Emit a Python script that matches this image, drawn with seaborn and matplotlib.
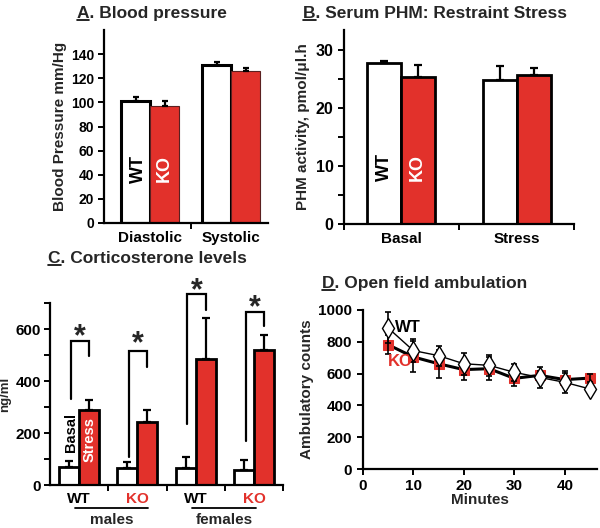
import numpy as np
import pandas as pd
import matplotlib
matplotlib.use("Agg")
import matplotlib.pyplot as plt
from matplotlib.lines import Line2D
import seaborn as sns

# ---------------- data ----------------
bp_categories = ["Diastolic", "Systolic"]
bp_wt = [101, 131]
bp_wt_err = [3.5, 2.7]
bp_ko = [97, 126]
bp_ko_err = [4.0, 2.7]

phm_categories = ["Basal", "Stress"]
phm_wt = [27.8, 24.9]
phm_wt_err = [0.4, 2.4]
phm_ko = [25.4, 25.7]
phm_ko_err = [2.1, 1.3]

cort_groups = ["WT males", "KO males", "WT females", "KO females"]
cort_tick_labels = ["WT", "KO", "WT", "KO"]
cort_basal = [71, 67, 64, 58]
cort_basal_err = [22, 23, 43, 39]
cort_stress = [290, 241, 486, 520]
cort_stress_err = [36, 49, 155, 56]
# significance brackets (value units)
cort_bracket_top = [553, 517, 735, 664]
cort_bracket_left = [331, 107, 235, 168]
cort_bracket_right = [496, 454, 673, 612]
cort_star = [588, 561, 767, 703]

minutes = [5, 10, 15, 20, 25, 30, 35, 40, 45]
wt_counts = [888, 745, 713, 662, 652, 608, 576, 545, 503]
wt_counts_err = [98, 72, 63, 68, 65, 55, 65, 70, 15]
ko_counts = [782, 705, 662, 625, 631, 570, 589, 562, 572]
ko_counts_err = [60, 97, 87, 63, 74, 51, 30, 40, 25]

RED = "#E2312B"

sns.set_style("ticks")
plt.rcParams["font.family"] = ["Liberation Sans", "DejaVu Sans"]
plt.rcParams["font.weight"] = "bold"
plt.rcParams["axes.labelweight"] = "bold"
plt.rcParams["axes.linewidth"] = 1.6
plt.rcParams["xtick.major.width"] = 1.4
plt.rcParams["ytick.major.width"] = 1.4
plt.rcParams["xtick.minor.width"] = 1.4
plt.rcParams["ytick.minor.width"] = 1.4
plt.rcParams["xtick.color"] = "black"
plt.rcParams["ytick.color"] = "black"
plt.rcParams["axes.edgecolor"] = "black"

fig = plt.figure(figsize=(6.0, 5.28), dpi=100)
W, H = 600, 528


def panel_title(x, y, letter, rest, size=12.5):
    fig.text(x, y, letter + rest, fontsize=size, fontweight="bold", ha="left", va="center")
    tl = fig.text(x, y, letter, fontsize=size, fontweight="bold", ha="left", va="center", alpha=0)
    r = fig.canvas.get_renderer()
    bb = tl.get_window_extent(r)
    fig.add_artist(Line2D([bb.x0 / W, bb.x1 / W], [(bb.y0 + 1.0) / H] * 2,
                          transform=fig.transFigure, color="black", lw=1.2))


def sorted_patches(ax):
    return sorted(ax.patches, key=lambda p: p.get_x())


def style_axes(ax):
    sns.despine(ax=ax)
    ax.tick_params(direction="out", length=4, which="both")


# ---------------- Panel A ----------------
axA = fig.add_axes([0.174, 0.5777, 0.273, 0.3653])
dfA = pd.DataFrame({
    "cat": bp_categories * 2,
    "geno": ["WT"] * 2 + ["KO"] * 2,
    "val": bp_wt + bp_ko,
    "err": bp_wt_err + bp_ko_err,
})
sns.barplot(data=dfA, x="cat", y="val", hue="geno", palette={"WT": "white", "KO": RED},
            width=0.72, saturation=1, edgecolor="black", linewidth=2.2, legend=False, ax=axA)
order = dfA.sort_values(["cat", "geno"], key=lambda s: s.map({"Diastolic": 0, "Systolic": 1, "WT": 0, "KO": 1}))
for p, (_, row) in zip(sorted_patches(axA), order.iterrows()):
    if row["geno"] == "KO":
        p.set_edgecolor("#5a2020")
        p.set_linewidth(0.8)
    xc = p.get_x() + p.get_width() / 2
    axA.errorbar(xc, row["val"], yerr=[[0], [row["err"]]], color="black", lw=1.6, capsize=2.5,
                 capthick=1.6, zorder=1)
axA.set_xlim(-0.57, 1.46)
axA.set_ylim(0, 160)
axA.set_yticks(np.arange(0, 141, 20))
axA.set_xticks([0.5], minor=True)
axA.set_xticks([0, 1])
axA.set_xticklabels(bp_categories, fontsize=11, fontweight="bold")
axA.tick_params(axis="y", labelsize=10)
style_axes(axA)
axA.tick_params(axis="x", which="major", length=0, pad=6)
axA.set_xlabel("")
axA.set_ylabel("Blood Pressure mm/Hg", fontsize=11, labelpad=3)
axA.text(-0.15, 45, "WT", rotation=90, fontsize=13, fontweight="bold", color="black", ha="center", va="center")
axA.text(0.17, 45, "KO", rotation=90, fontsize=13, fontweight="bold", color="white", ha="center", va="center")
panel_title(0.128, 0.975, "A", ". Blood pressure")

# ---------------- Panel B ----------------
axB = fig.add_axes([0.573, 0.576, 0.384, 0.367])
dfB = pd.DataFrame({
    "cat": phm_categories * 2,
    "geno": ["WT"] * 2 + ["KO"] * 2,
    "val": phm_wt + phm_ko,
    "err": phm_wt_err + phm_ko_err,
})
sns.barplot(data=dfB, x="cat", y="val", hue="geno", palette={"WT": "white", "KO": RED},
            width=0.59, saturation=1, edgecolor="black", linewidth=2.0, legend=False, ax=axB)
orderB = dfB.sort_values(["cat", "geno"], key=lambda s: s.map({"Basal": 0, "Stress": 1, "WT": 0, "KO": 1}))
for p, (_, row) in zip(sorted_patches(axB), orderB.iterrows()):
    xc = p.get_x() + p.get_width() / 2
    axB.errorbar(xc, row["val"], yerr=[[0], [row["err"]]], color="black", lw=1.6, capsize=3,
                 capthick=1.6, zorder=1)
axB.set_xlim(-0.5, 1.5)
axB.set_ylim(0, 33.5)
axB.set_yticks([0, 10, 20, 30])
axB.set_yticks([5, 15, 25], minor=True)
axB.set_xticks([-0.5, 0.5, 1.5], minor=True)
axB.set_xticks([0, 1])
axB.set_xticklabels(phm_categories, fontsize=11, fontweight="bold")
axB.tick_params(axis="y", labelsize=11.5)
style_axes(axB)
axB.tick_params(axis="x", which="major", length=0, pad=6)
axB.set_xlabel("")
axB.set_ylabel("PHM activity, pmol/\u03bcl.h", fontsize=11, labelpad=4)
axB.text(-0.15, 9.8, "WT", rotation=90, fontsize=13, fontweight="bold", color="black", ha="center", va="center")
axB.text(0.14, 9.8, "KO", rotation=90, fontsize=13, fontweight="bold", color="white", ha="center", va="center")
panel_title(0.505, 0.975, "B", ". Serum PHM: Restraint Stress")

# ---------------- Panel C ----------------
axC = fig.add_axes([0.083, 0.0814, 0.389, 0.3447])
dfC = pd.DataFrame({
    "grp": cort_groups * 2,
    "cond": ["Basal"] * 4 + ["Stress"] * 4,
    "val": cort_basal + cort_stress,
    "err": cort_basal_err + cort_stress_err,
})
sns.barplot(data=dfC, x="grp", y="val", hue="cond", palette={"Basal": "white", "Stress": RED},
            width=0.686, saturation=1, edgecolor="black", linewidth=2.0, legend=False, ax=axC)
gi = {g: i for i, g in enumerate(cort_groups)}
orderC = dfC.sort_values(["grp", "cond"], key=lambda s: s.map(lambda v: gi.get(v, {"Basal": 0, "Stress": 1}.get(v))))
centers = {}
for p, (_, row) in zip(sorted_patches(axC), orderC.iterrows()):
    xc = p.get_x() + p.get_width() / 2
    centers[(row["grp"], row["cond"])] = xc
    axC.errorbar(xc, row["val"], yerr=[[0], [row["err"]]], color="black", lw=1.6, capsize=3,
                 capthick=1.6, zorder=1)
for i, g in enumerate(cort_groups):
    xl = centers[(g, "Basal")] + 0.03
    xr = centers[(g, "Stress")]
    axC.plot([xl, xl, xr, xr], [cort_bracket_left[i], cort_bracket_top[i], cort_bracket_top[i], cort_bracket_right[i]],
             color="black", lw=1.6, clip_on=False, solid_joinstyle="miter")
    axC.annotate("*", xy=((xl + xr) / 2, cort_star[i]), xytext=(0, -4), textcoords="offset points",
                 fontsize=22, fontweight="bold", ha="center", va="center", annotation_clip=False)
axC.set_xlim(-0.5, 3.5)
axC.set_ylim(0, 700)
axC.set_yticks([0, 200, 400, 600])
axC.set_yticks([100, 300, 500, 700], minor=True)
axC.set_xticks([0.5, 1.5, 2.5, 3.5], minor=True)
axC.set_xticks([0, 1, 2, 3])
axC.set_xticklabels(cort_tick_labels, fontsize=11, fontweight="bold")
for lab, txt in zip(axC.get_xticklabels(), cort_tick_labels):
    lab.set_color(RED if txt == "KO" else "black")
axC.tick_params(axis="y", labelsize=11, pad=2.5)
style_axes(axC)
axC.tick_params(axis="x", which="major", length=0, pad=5)
axC.set_xlabel("")
axC.set_ylabel("ng/ml", fontsize=9.5)
axC.yaxis.set_label_coords(-0.165, 0.5)
axC.text(-0.14, 201, "Basal", rotation=90, fontsize=10.5, fontweight="bold", color="black", ha="center", va="center")
axC.text(0.19, 174, "Stress", rotation=90, fontsize=10.5, fontweight="bold", color="white", ha="center", va="center")
trC = axC.get_xaxis_transform()
for (x0, x1, name) in [(-0.06, 1.18, "males"), (1.93, 3.04, "females")]:
    axC.plot([x0, x1], [-0.127, -0.127], transform=trC, color="black", lw=1.3, clip_on=False)
    axC.text((x0 + x1) / 2, -0.19, name, transform=trC, fontsize=11,
             fontweight="bold", ha="center", va="center")
panel_title(0.08, 0.511, "C", ". Corticosterone levels")

# ---------------- Panel D ----------------
axD = fig.add_axes([0.6045, 0.1117, 0.39, 0.3012])
dfD = pd.DataFrame({
    "min": minutes * 2,
    "geno": ["WT"] * len(minutes) + ["KO"] * len(minutes),
    "count": wt_counts + ko_counts,
})
sns.lineplot(data=dfD[dfD.geno == "KO"], x="min", y="count", color="black", lw=2.2, marker="s",
             markersize=7, markerfacecolor=RED, markeredgecolor=RED, ax=axD, zorder=2)
axD.errorbar(minutes, ko_counts, yerr=ko_counts_err, fmt="none", ecolor="black", elinewidth=1.2,
             capsize=2.5, capthick=1.2, zorder=3)
axD.errorbar(minutes, wt_counts, yerr=wt_counts_err, fmt="none", ecolor="black", elinewidth=1.2,
             capsize=2.5, capthick=1.2, zorder=3)
sns.lineplot(data=dfD[dfD.geno == "WT"], x="min", y="count", color="black", lw=1.0, marker="d",
             markersize=10, markerfacecolor="white", markeredgecolor="black", markeredgewidth=1.0,
             ax=axD, zorder=4)
axD.set_xlim(0, 46.3)
axD.set_ylim(0, 1000)
axD.set_xticks([0, 10, 20, 30, 40])
axD.set_yticks(np.arange(0, 1001, 200))
axD.tick_params(labelsize=11)
style_axes(axD)
axD.set_xlabel("Minutes", fontsize=11, labelpad=0)
axD.set_ylabel("Ambulatory counts", fontsize=11, labelpad=3)
axD.text(6.3, 887, "WT", fontsize=12, fontweight="bold", color="black", ha="left", va="center")
axD.text(5.0, 673, "KO", fontsize=12, fontweight="bold", color=RED, ha="left", va="center")
panel_title(0.537, 0.464, "D", ". Open field ambulation")

fig.savefig("out.png", dpi=100)
